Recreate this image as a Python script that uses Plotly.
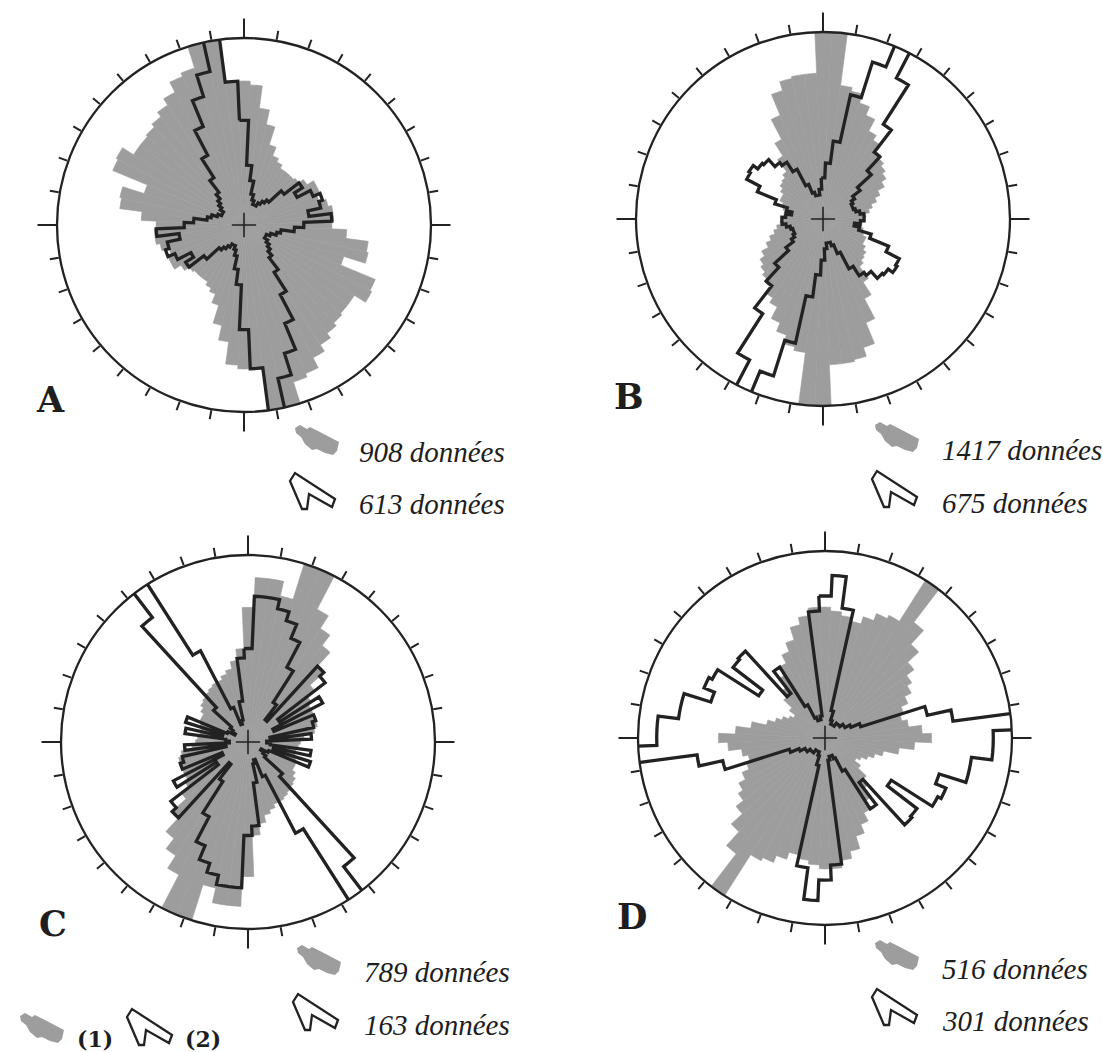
import plotly.graph_objects as go

W, H = 1103, 1052

# 5-degree orientation classes (centres 0..175); each class is repeated at +180
CENTRES = list(range(0, 180, 5))

# relative frequencies, 1.0 = outer circle (longer petals are cut by the circle)
A_fill = [0.77, 0.75, 0.63, 0.55, 0.45, 0.40, 0.38, 0.36, 0.36, 0.36,
          0.37, 0.40, 0.44, 0.44, 0.42, 0.46, 0.48, 0.48, 0.47, 0.55,
          0.67, 0.68, 0.56, 0.76, 0.77, 0.70, 0.70, 0.71, 0.73, 0.76,
          0.80, 0.86, 0.88, 1.10, 1.10, 0.77]
A_line = [0.56, 0.32, 0.24, 0.17, 0.14, 0.12, 0.12, 0.14, 0.16, 0.18,
          0.27, 0.37, 0.32, 0.40, 0.44, 0.42, 0.35, 0.47, 0.32, 0.27,
          0.20, 0.18, 0.15, 0.13, 0.13, 0.15, 0.17, 0.19, 0.22, 0.30,
          0.42, 0.57, 0.72, 0.84, 1.10, 0.77]

B_fill = [1.10, 1.10, 0.72, 0.70, 0.65, 0.60, 0.53, 0.50, 0.46, 0.44,
          0.42, 0.40, 0.37, 0.33, 0.30, 0.27, 0.25, 0.23, 0.22, 0.21,
          0.21, 0.22, 0.23, 0.25, 0.25, 0.27, 0.29, 0.30, 0.32, 0.40,
          0.48, 0.60, 0.72, 0.77, 0.78, 0.78]
B_line = [0.22, 0.30, 0.42, 0.68, 0.88, 1.10, 0.85, 0.60, 0.45, 0.35,
          0.25, 0.20, 0.18, 0.17, 0.17, 0.18, 0.20, 0.22, 0.22, 0.20,
          0.17, 0.20, 0.27, 0.38, 0.46, 0.47, 0.44, 0.43, 0.38, 0.36,
          0.30, 0.20, 0.15, 0.13, 0.13, 0.16]

C_fill = [0.72, 0.88, 0.88, 0.80, 1.10, 1.10, 0.80, 0.72, 0.65, 0.55,
          0.45, 0.40, 0.38, 0.38, 0.38, 0.38, 0.36, 0.30, 0.28, 0.27,
          0.26, 0.26, 0.27, 0.28, 0.28, 0.30, 0.32, 0.33, 0.34, 0.35,
          0.36, 0.36, 0.38, 0.40, 0.44, 0.50]
C_line = [0.50, 0.78, 0.78, 0.73, 0.68, 0.60, 0.45, 0.25, 0.15, 0.55,
          0.52, 0.20, 0.45, 0.15, 0.38, 0.36, 0.12, 0.34, 0.10, 0.12,
          0.34, 0.14, 0.35, 0.12, 0.08, 0.10, 0.12, 0.25, 0.84, 1.10,
          0.55, 0.20, 0.10, 0.12, 0.22, 0.45]

D_fill = [0.70, 0.68, 0.66, 0.64, 0.68, 0.72, 0.74, 1.10, 0.78, 0.68,
          0.60, 0.55, 0.52, 0.48, 0.44, 0.42, 0.45, 0.52, 0.57, 0.48,
          0.40, 0.32, 0.28, 0.25, 0.22, 0.20, 0.24, 0.30, 0.34, 0.40,
          0.45, 0.50, 0.55, 0.62, 0.66, 0.70]
D_line = [0.76, 0.87, 0.70, 0.15, 0.10, 0.08, 0.08, 0.08, 0.10, 0.10,
          0.10, 0.12, 0.12, 0.15, 0.20, 0.56, 0.69, 1.10, 0.90, 0.90,
          0.79, 0.79, 0.64, 0.70, 0.68, 0.42, 0.62, 0.63, 0.30, 0.45,
          0.20, 0.12, 0.10, 0.10, 0.12, 0.68]

PANELS = ["A", "B", "C", "D"]
FILLS = [A_fill, B_fill, C_fill, D_fill]
LINES = [A_line, B_line, C_line, D_line]
COUNT_FILL = ["908 données", "1417 données", "789 données", "516 données"]
COUNT_LINE = ["613 données", "675 données", "163 données", "301 données"]

# circle centre (px) and radius (px) of each rose
GEOM = {"A": (244, 225, 187), "B": (823, 219, 187),
        "C": (248, 742, 187), "D": (825, 738, 187)}

INK = "#222222"
GREY = "#9d9d9d"


def px(x, y):
    return x / W, 1 - y / H


def both_halves(vals):
    theta = CENTRES + [c + 180 for c in CENTRES]
    return theta, list(vals) + list(vals)


def step_outline(vals):
    theta, r = both_halves(vals)
    tt, rr = [], []
    for t, v in zip(theta, r):
        for d in (-2.5, 0.0, 2.5):
            tt.append(t + d)
            rr.append(v)
    tt.append(tt[0])
    rr.append(rr[0])
    return tt, rr


fig = go.Figure()
layout_polars = {}

for i, name in enumerate(PANELS):
    cx, cy, R = GEOM[name]
    dom = dict(x=[(cx - R) / W, (cx + R) / W],
               y=[1 - (cy + R) / H, 1 - (cy - R) / H])
    base = f"polar{i + 1}" if i else "polar"
    over = f"polar{i + 5}"

    th, r = both_halves(FILLS[i])
    fig.add_trace(go.Barpolar(
        r=r, theta=th, width=[5] * len(th), subplot=base,
        marker=dict(color=GREY, line=dict(color=GREY, width=0.6)),
        showlegend=False, hoverinfo="skip"))

    tt, rr = step_outline(LINES[i])
    fig.add_trace(go.Scatterpolar(
        r=rr, theta=tt, mode="lines", subplot=base,
        line=dict(color=INK, width=3.3), showlegend=False, hoverinfo="skip"))

    # centre cross on the overlay
    fig.add_trace(go.Scatterpolar(
        r=[0.065, 0.065, None, 0.065, 0.065], theta=[0, 180, None, 90, 270],
        mode="lines", subplot=over, line=dict(color=INK, width=1.6),
        showlegend=False, hoverinfo="skip"))

    common_radial = dict(visible=False, range=[0, 1], showgrid=False)
    layout_polars[base] = dict(
        domain=dom, bgcolor="white", hole=0,
        radialaxis=common_radial,
        angularaxis=dict(direction="clockwise", rotation=90,
                         tickmode="array", tickvals=list(range(0, 360, 10)),
                         ticks="outside", ticklen=9, tickwidth=2,
                         tickcolor=INK, showticklabels=False, showgrid=False,
                         showline=True, linecolor=INK, linewidth=2.3))
    layout_polars[over] = dict(
        domain=dom, bgcolor="rgba(0,0,0,0)",
        radialaxis=common_radial,
        angularaxis=dict(direction="clockwise", rotation=90,
                         tickmode="array", tickvals=[0, 90, 180, 270],
                         ticks="outside", ticklen=19, tickwidth=2.2,
                         tickcolor=INK, showticklabels=False, showgrid=False,
                         showline=False))

fig.update_layout(**layout_polars)

# small legend glyphs: a grey petal and an outlined stepped petal
BLOB = [(0, 3), (5, 0), (12, 4), (15, 2), (23, 6), (44, 17), (42, 26),
        (38, 30), (30, 28), (22, 24), (17, 25), (10, 19), (6, 12), (1, 8)]
BOLT = [(0, 9), (5, 1), (45, 27), (42, 35), (19, 22), (17, 37), (12, 37)]


def glyph_path(points, ox, oy):
    parts = []
    for k, (x, y) in enumerate(points):
        X, Y = px(ox + x, oy + y)
        parts.append(("M" if k == 0 else "L") + f"{X:.5f},{Y:.5f}")
    return " ".join(parts) + " Z"


shapes = []


def add_blob(ox, oy):
    shapes.append(dict(type="path", xref="paper", yref="paper",
                       path=glyph_path(BLOB, ox, oy), fillcolor=GREY,
                       line=dict(width=0)))


def add_bolt(ox, oy):
    shapes.append(dict(type="path", xref="paper", yref="paper",
                       path=glyph_path(BOLT, ox, oy), fillcolor="white",
                       line=dict(color=INK, width=2.3)))


annotations = []


def add_text(x, y, text, size, family, style="normal", weight="normal",
             xanchor="left"):
    X, Y = px(x, y)
    annotations.append(dict(x=X, y=Y, xref="paper", yref="paper", text=text,
                            showarrow=False, xanchor=xanchor, yanchor="middle",
                            font=dict(size=size, family=family, color="#1e1e1e",
                                      style=style, weight=weight)))


LETTER_POS = {"A": (50, 400), "B": (629, 397), "C": (53, 923), "D": (632, 916)}
LEG = {"A": ((295, 425), (290, 472), 357, 452, 504),
       "B": ((875, 422), (872, 470), 940, 450, 503),
       "C": ((297, 945), (293, 993), 362, 972, 1025),
       "D": ((875, 940), (872, 988), 940, 969, 1021)}

for i, name in enumerate(PANELS):
    lx, ly = LETTER_POS[name]
    add_text(lx, ly, name, 35, "DejaVu Serif", weight="bold", xanchor="center")
    (bx, by), (ox, oy), tx, y1, y2 = LEG[name]
    add_blob(bx, by)
    add_bolt(ox, oy)
    add_text(tx, y1, COUNT_FILL[i], 29, "Liberation Serif", style="italic")
    add_text(tx, y2, COUNT_LINE[i], 29, "Liberation Serif", style="italic")

add_blob(20, 1013)
add_text(75, 1039, "(1)", 22, "DejaVu Serif", weight="bold")
add_bolt(127, 1008)
add_text(183, 1039, "(2)", 22, "DejaVu Serif", weight="bold")

fig.update_layout(width=W, height=H, margin=dict(l=0, r=0, t=0, b=0),
                  paper_bgcolor="white", plot_bgcolor="white",
                  shapes=shapes, annotations=annotations, showlegend=False)

fig.write_html("out.html")
